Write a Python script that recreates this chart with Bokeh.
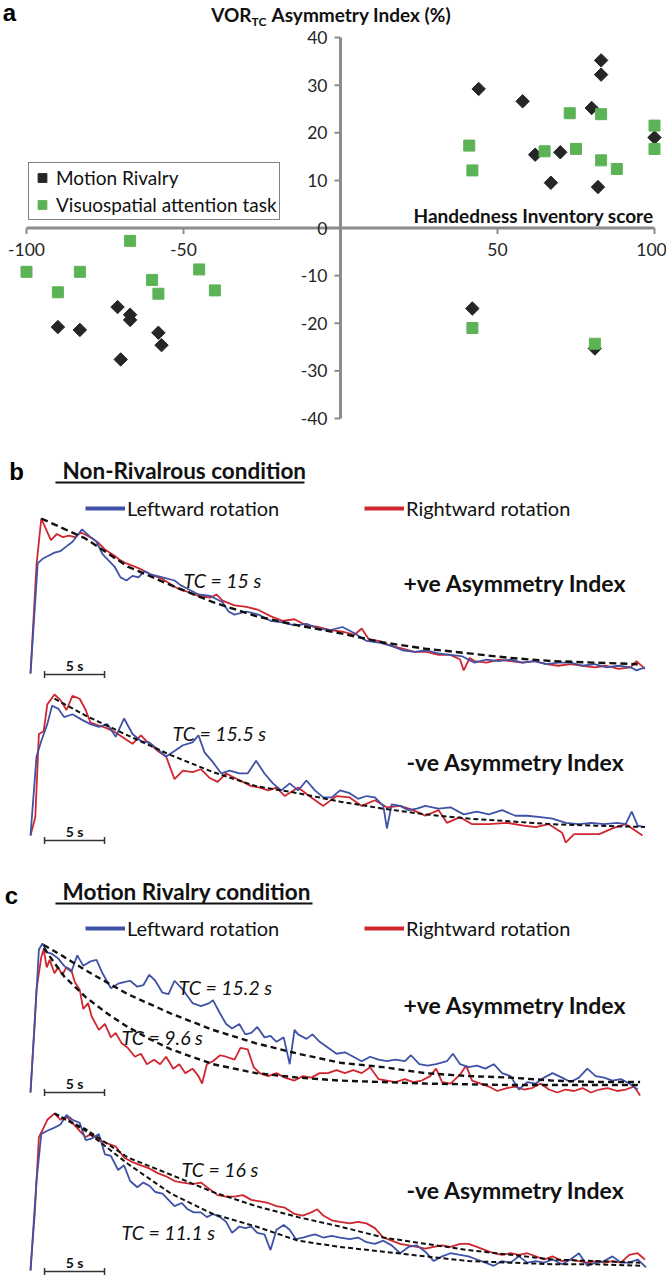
import numpy as np
from bokeh.plotting import figure
from bokeh.layouts import column
from bokeh.models import Range1d, Legend, LegendItem
from bokeh.core.properties import value
from bokeh.embed import file_html
from bokeh.resources import INLINE

# ---------------- panel a data ----------------
handedness_motion = [44, 58, 83, 83, 80, 62, 70, 67, 82, 100, 42, 81,
                     -90, -83, -71, -67, -67, -58, -57, -70]
asymmetry_motion = [29.2, 26.6, 35.2, 32.2, 25.2, 15.4, 15.9, 9.5, 8.6, 19.0, -16.9, -25.3,
                    -20.8, -21.4, -16.6, -18.2, -19.3, -22.0, -24.6, -27.6]
handedness_visuo = [41, 42, 73, 83, 65, 75, 83, 88, 100, 100, 42, 81,
                    -100, -90, -83, -67, -60, -58, -45, -40]
asymmetry_visuo = [17.3, 12.1, 24.1, 23.9, 16.1, 16.6, 14.2, 12.4, 21.5, 16.6, -21.0, -24.3,
                   -9.2, -13.5, -9.2, -2.7, -10.9, -13.8, -8.7, -13.1]
handedness_ticks = [-100, -50, 50, 100]
asymmetry_ticks = [-40, -30, -20, -10, 0, 10, 20, 30, 40]

# ---------------- panel b/c traces: (time s, normalised velocity) ----------------
b_pos_left = [(0, 0), (0.6, 0.71), (1.0, 0.74), (1.5, 0.76), (2.0, 0.78), (2.5, 0.79), (3.0, 0.82), (3.5, 0.85),
              (4.0, 0.90), (4.3, 0.93), (5.0, 0.88), (5.5, 0.85), (6.0, 0.77), (6.5, 0.73), (7.0, 0.69), (7.5, 0.62),
              (8.0, 0.60), (8.5, 0.63), (9.0, 0.62), (9.5, 0.66), (10.0, 0.64), (11.0, 0.62), (12.0, 0.60), (12.5, 0.57),
              (13.0, 0.55), (14.0, 0.51), (15.0, 0.50), (16.0, 0.46), (16.5, 0.40), (17.0, 0.38), (18.0, 0.40), (19.0, 0.38),
              (20.0, 0.34), (21.0, 0.33), (22.0, 0.31), (23.0, 0.32), (24.0, 0.29), (25.0, 0.28), (26.0, 0.30), (27.0, 0.26),
              (28.0, 0.21), (29.0, 0.20), (30.0, 0.18), (31.0, 0.15), (32.0, 0.14), (33.0, 0.15), (34.0, 0.13), (35.0, 0.12),
              (36.0, 0.11), (37.0, 0.07), (38.0, 0.09), (39.0, 0.08), (40.0, 0.09), (41.0, 0.07), (42.0, 0.08), (43.0, 0.06),
              (44.0, 0.07), (45.0, 0.07), (46.0, 0.05), (47.0, 0.06), (48.0, 0.04), (49.0, 0.05), (50.0, 0.04), (50.5, 0.02),
              (51.2, 0.04)]
b_pos_right = [(0, 0), (0.5, 0.70), (0.9, 1.0), (1.3, 0.93), (1.7, 0.86), (2.2, 0.90), (2.7, 0.88), (3.2, 0.89),
               (3.7, 0.88), (4.2, 0.91), (4.7, 0.89), (5.2, 0.87), (5.7, 0.84), (6.2, 0.80), (7.0, 0.76), (7.5, 0.73),
               (8.0, 0.71), (9.0, 0.68), (10.0, 0.64), (11.0, 0.61), (12.0, 0.56), (12.5, 0.54), (13.0, 0.53), (14.0, 0.50),
               (15.0, 0.49), (15.5, 0.51), (16.0, 0.47), (17.0, 0.44), (18.0, 0.43), (19.0, 0.41), (20.0, 0.37), (21.0, 0.34),
               (22.0, 0.35), (23.0, 0.31), (24.0, 0.30), (25.0, 0.28), (26.0, 0.27), (27.0, 0.25), (27.6, 0.29), (28.2, 0.22),
               (29.0, 0.21), (30.0, 0.18), (31.0, 0.16), (32.0, 0.14), (33.0, 0.14), (34.0, 0.12), (35.0, 0.12), (35.8, 0.09),
               (36.1, 0.02), (36.6, 0.10), (37.0, 0.08), (38.0, 0.07), (39.0, 0.09), (40.0, 0.08), (41.0, 0.07), (42.0, 0.08),
               (43.0, 0.06), (44.0, 0.05), (45.0, 0.06), (46.0, 0.05), (47.0, 0.04), (48.0, 0.05), (49.0, 0.03), (50.0, 0.04),
               (50.5, 0.08), (51.2, 0.03)]
b_pos_fit = [(0.9, 1.0), (4.6, 0.87), (8.1, 0.69), (11.7, 0.57), (15.2, 0.46), (18.8, 0.37), (22.3, 0.31), (25.8, 0.26),
             (29.4, 0.20), (32.9, 0.16), (36.5, 0.13), (40.0, 0.10), (43.5, 0.08), (47.1, 0.07), (50.6, 0.06)]

b_neg_left = [(0, 0), (0.5, 0.56), (0.9, 0.67), (1.4, 0.79), (1.8, 0.92), (2.3, 0.90), (2.8, 0.84), (3.5, 0.86),
              (4.3, 0.82), (5.0, 0.79), (5.7, 0.77), (6.4, 0.79), (7.1, 0.70), (7.8, 0.83), (8.5, 0.72), (9.2, 0.67),
              (9.9, 0.66), (10.6, 0.61), (11.3, 0.56), (12.0, 0.60), (12.7, 0.64), (13.5, 0.66), (14.0, 0.71), (14.5, 0.59),
              (15.2, 0.52), (15.9, 0.44), (16.6, 0.46), (17.4, 0.44), (18.1, 0.44), (18.8, 0.53), (19.5, 0.44), (20.2, 0.37),
              (20.9, 0.32), (21.6, 0.37), (22.3, 0.32), (23.0, 0.39), (23.7, 0.32), (24.4, 0.27), (25.1, 0.27), (25.8, 0.32),
              (26.6, 0.30), (27.3, 0.26), (28.0, 0.28), (28.7, 0.27), (29.4, 0.21), (29.7, 0.05), (30.1, 0.22), (30.8, 0.21),
              (31.5, 0.18), (32.2, 0.19), (32.9, 0.21), (34.0, 0.19), (35.0, 0.20), (36.1, 0.15), (37.2, 0.17), (38.2, 0.15),
              (39.3, 0.18), (40.4, 0.14), (41.4, 0.14), (42.5, 0.13), (43.5, 0.12), (44.6, 0.09), (45.7, 0.08), (46.7, 0.09),
              (47.8, 0.08), (48.9, 0.09), (49.6, 0.08), (50.1, 0.17), (50.6, 0.07), (51.2, 0.06)]
b_neg_right = [(0, 0), (0.4, 0.13), (0.7, 0.72), (1.1, 0.74), (1.4, 0.93), (2.0, 1.0), (2.5, 0.96), (3.0, 0.89),
               (3.5, 0.99), (4.1, 0.97), (4.6, 0.89), (5.0, 0.80), (5.7, 0.78), (6.4, 0.76), (7.1, 0.73), (7.8, 0.69),
               (8.5, 0.65), (9.2, 0.71), (9.9, 0.65), (10.6, 0.60), (11.3, 0.56), (12.0, 0.40), (12.7, 0.46), (13.5, 0.45),
               (14.2, 0.47), (14.9, 0.41), (15.6, 0.38), (16.3, 0.44), (17.0, 0.41), (17.7, 0.38), (18.4, 0.35), (19.1, 0.34),
               (19.8, 0.32), (20.5, 0.34), (21.2, 0.28), (22.3, 0.34), (23.4, 0.27), (24.4, 0.21), (25.5, 0.28), (26.6, 0.27),
               (27.6, 0.21), (28.7, 0.25), (29.7, 0.20), (30.8, 0.21), (31.9, 0.18), (32.9, 0.14), (34.0, 0.18), (34.7, 0.09),
               (35.8, 0.13), (36.8, 0.08), (38.2, 0.08), (39.7, 0.09), (41.1, 0.07), (42.1, 0.06), (43.2, 0.08), (44.3, 0.02),
               (44.6, -0.05), (45.3, 0.01), (46.4, 0.01), (47.4, 0.01), (48.5, 0.05), (49.6, 0.08), (50.3, 0.04), (51.0, 0.0)]
b_neg_fit = [(2.0, 0.97), (4.6, 0.85), (8.1, 0.71), (11.7, 0.57), (15.2, 0.45), (18.8, 0.35), (22.3, 0.30), (25.8, 0.24),
             (29.4, 0.19), (32.9, 0.15), (36.5, 0.12), (40.0, 0.10), (43.5, 0.08), (47.1, 0.07), (51.2, 0.06)]

c_pos_left = [(0, 0), (0.35, 0.46), (0.7, 0.96), (1.0, 1.0), (1.4, 0.94), (1.8, 0.93), (2.3, 0.90), (2.8, 0.85),
              (3.4, 0.81), (3.9, 0.92), (4.4, 0.85), (5.0, 0.88), (5.5, 0.89), (6.0, 0.80), (6.7, 0.70), (7.3, 0.73),
              (7.8, 0.74), (8.3, 0.75), (8.9, 0.71), (9.4, 0.72), (9.9, 0.79), (10.4, 0.75), (11.0, 0.67), (11.5, 0.66),
              (12.0, 0.75), (12.7, 0.69), (13.5, 0.60), (14.2, 0.58), (14.9, 0.60), (15.2, 0.62), (15.8, 0.53), (16.3, 0.46),
              (16.8, 0.43), (17.4, 0.46), (17.9, 0.39), (18.4, 0.40), (18.9, 0.44), (19.5, 0.37), (20.0, 0.38), (20.5, 0.34),
              (21.1, 0.37), (21.6, 0.19), (22.0, 0.42), (22.3, 0.39), (23.0, 0.36), (23.5, 0.39), (24.1, 0.34), (24.8, 0.30),
              (25.5, 0.26), (26.2, 0.27), (26.9, 0.24), (27.6, 0.21), (28.3, 0.24), (29.0, 0.22), (29.7, 0.21), (30.4, 0.22),
              (31.2, 0.21), (31.7, 0.25), (32.4, 0.19), (33.1, 0.18), (33.8, 0.19), (34.7, 0.21), (35.2, 0.26), (35.8, 0.19),
              (36.5, 0.17), (37.2, 0.18), (37.9, 0.16), (38.6, 0.19), (39.3, 0.13), (40.0, 0.11), (40.7, 0.02), (41.4, 0.07),
              (42.1, 0.06), (42.8, 0.10), (43.5, 0.13), (44.3, 0.10), (45.0, 0.07), (45.7, 0.10), (46.4, 0.16), (47.1, 0.11),
              (47.8, 0.10), (48.5, 0.08), (49.2, 0.09), (49.9, 0.06), (50.6, 0.02)]
c_pos_right = [(0, 0), (0.5, 0.69), (0.9, 0.91), (1.1, 0.96), (1.35, 0.84), (1.6, 0.89), (2.0, 0.80), (2.3, 0.84),
               (2.65, 0.79), (3.0, 0.84), (3.4, 0.82), (3.7, 0.74), (4.1, 0.69), (4.4, 0.56), (4.8, 0.60), (5.1, 0.51),
               (5.7, 0.42), (6.2, 0.46), (6.7, 0.37), (7.1, 0.40), (7.6, 0.33), (8.1, 0.30), (8.7, 0.24), (9.2, 0.26),
               (9.7, 0.19), (10.3, 0.22), (10.8, 0.19), (11.3, 0.24), (11.9, 0.16), (12.4, 0.19), (12.9, 0.13), (13.5, 0.16),
               (14.0, 0.11), (14.3, 0.06), (14.7, 0.19), (15.2, 0.21), (15.8, 0.25), (16.3, 0.24), (17.0, 0.22), (17.5, 0.30),
               (18.1, 0.29), (18.6, 0.17), (19.1, 0.13), (19.8, 0.11), (20.5, 0.13), (21.2, 0.10), (22.0, 0.08), (22.7, 0.11),
               (23.4, 0.10), (24.1, 0.13), (24.8, 0.13), (25.5, 0.15), (26.2, 0.13), (26.9, 0.15), (27.6, 0.13), (28.3, 0.17),
               (29.0, 0.09), (29.7, 0.08), (30.4, 0.07), (31.2, 0.09), (31.9, 0.07), (32.6, 0.08), (33.3, 0.11), (33.8, 0.16),
               (34.3, 0.07), (35.0, 0.06), (35.8, 0.12), (36.3, 0.18), (36.8, 0.08), (37.5, 0.06), (38.2, 0.04), (38.9, 0.01),
               (39.7, 0.03), (40.4, 0.04), (41.1, 0.02), (41.8, 0.03), (42.5, 0.06), (43.2, 0.02), (43.9, 0.0), (44.6, 0.02),
               (45.3, 0.01), (46.0, 0.03), (46.7, 0.0), (47.4, 0.02), (48.1, 0.03), (48.9, 0.01), (49.6, 0.02), (50.3, 0.04),
               (50.8, -0.02)]
c_pos_fit_left = [(1.1, 0.99), (2.8, 0.91), (4.6, 0.82), (8.1, 0.66), (11.7, 0.53), (15.2, 0.42), (18.8, 0.33),
                  (22.3, 0.26), (25.8, 0.20), (29.4, 0.17), (32.9, 0.13), (36.5, 0.11), (40.0, 0.10), (43.5, 0.08),
                  (47.1, 0.07), (50.8, 0.07)]
c_pos_fit_right = [(1.1, 0.97), (2.8, 0.78), (4.6, 0.64), (6.4, 0.53), (8.1, 0.44), (9.9, 0.36), (11.7, 0.29),
                   (15.2, 0.19), (18.8, 0.13), (22.3, 0.10), (25.8, 0.08), (32.9, 0.06), (40.0, 0.05), (47.1, 0.05),
                   (50.8, 0.05)]

c_neg_left = [(0, 0), (0.5, 0.57), (0.9, 0.87), (1.4, 0.89), (2.0, 0.91), (2.5, 0.93), (3.0, 0.99), (3.5, 0.96),
              (4.1, 0.94), (4.6, 0.83), (5.1, 0.84), (5.7, 0.87), (6.2, 0.74), (6.7, 0.73), (7.3, 0.64), (7.8, 0.67),
              (8.3, 0.57), (8.9, 0.53), (9.4, 0.56), (9.9, 0.54), (10.4, 0.50), (11.0, 0.49), (11.5, 0.45), (12.0, 0.41),
              (12.6, 0.43), (13.1, 0.39), (13.6, 0.37), (14.2, 0.37), (14.7, 0.34), (15.2, 0.36), (15.8, 0.34), (16.3, 0.31),
              (16.8, 0.24), (17.4, 0.28), (17.9, 0.27), (18.4, 0.28), (18.9, 0.24), (19.5, 0.23), (20.0, 0.13), (20.5, 0.26),
              (21.1, 0.29), (21.6, 0.26), (22.1, 0.20), (22.7, 0.21), (23.2, 0.22), (23.7, 0.23), (24.4, 0.21), (25.1, 0.22),
              (25.8, 0.21), (26.6, 0.20), (27.3, 0.21), (28.0, 0.18), (28.7, 0.17), (29.4, 0.19), (30.1, 0.16), (30.8, 0.11),
              (31.5, 0.15), (32.2, 0.16), (32.9, 0.12), (33.6, 0.06), (34.3, 0.09), (35.0, 0.11), (35.8, 0.10), (36.5, 0.09),
              (37.2, 0.07), (37.9, 0.05), (38.6, 0.03), (39.3, 0.06), (40.0, 0.05), (40.7, 0.09), (41.4, 0.05), (42.1, 0.06),
              (42.8, 0.05), (43.5, 0.07), (44.3, 0.04), (45.0, 0.07), (45.7, 0.11), (46.4, 0.03), (47.1, 0.05), (47.8, 0.06),
              (48.5, 0.09), (49.2, 0.05), (49.9, 0.05), (50.6, 0.07), (51.3, 0.02)]
c_neg_right = [(0, 0), (0.35, 0.36), (0.7, 0.85), (1.1, 0.91), (1.4, 0.96), (2.0, 1.0), (2.5, 0.96), (3.0, 0.98),
               (3.5, 0.94), (4.1, 0.89), (4.6, 0.85), (5.1, 0.87), (5.7, 0.83), (6.4, 0.81), (7.1, 0.79), (7.8, 0.72),
               (8.5, 0.69), (9.2, 0.67), (9.9, 0.65), (10.6, 0.62), (11.3, 0.60), (12.0, 0.57), (12.7, 0.56), (13.5, 0.55),
               (14.2, 0.56), (14.9, 0.52), (15.6, 0.48), (16.3, 0.47), (17.0, 0.47), (17.7, 0.48), (18.4, 0.45), (19.1, 0.44),
               (19.8, 0.43), (20.5, 0.41), (21.2, 0.40), (22.0, 0.36), (22.7, 0.35), (23.4, 0.37), (23.9, 0.39), (24.4, 0.35),
               (25.1, 0.32), (25.8, 0.31), (26.6, 0.30), (27.3, 0.31), (28.0, 0.30), (28.7, 0.27), (29.4, 0.21), (30.1, 0.19),
               (30.8, 0.17), (31.5, 0.16), (32.2, 0.15), (32.9, 0.14), (33.6, 0.15), (34.3, 0.16), (35.0, 0.15), (35.8, 0.17),
               (36.5, 0.17), (37.2, 0.15), (37.9, 0.13), (38.6, 0.11), (39.3, 0.10), (40.0, 0.11), (40.7, 0.10), (41.4, 0.11),
               (42.1, 0.09), (42.8, 0.07), (43.5, 0.09), (44.3, 0.06), (45.0, 0.07), (45.7, 0.06), (46.4, 0.05), (47.1, 0.06),
               (47.8, 0.05), (48.5, 0.06), (49.2, 0.05), (49.9, 0.10), (50.6, 0.11), (51.2, 0.07)]
c_neg_fit_right = [(2.0, 1.0), (4.6, 0.90), (8.1, 0.72), (11.7, 0.61), (15.2, 0.50), (18.8, 0.41), (22.3, 0.34),
                   (25.8, 0.28), (29.4, 0.21), (32.9, 0.17), (36.5, 0.13), (40.0, 0.10), (43.5, 0.07), (47.1, 0.06),
                   (50.8, 0.05)]
c_neg_fit_left = [(2.0, 1.0), (4.6, 0.89), (8.1, 0.68), (11.7, 0.49), (15.2, 0.36), (18.8, 0.28), (22.3, 0.19),
                  (25.8, 0.15), (29.4, 0.12), (32.9, 0.09), (36.5, 0.06), (40.0, 0.05), (43.5, 0.04), (47.1, 0.04),
                  (50.8, 0.03)]

scale_bar_start = 1.17   # s
scale_bar_seconds = 5    # s

# ---------------- styling ----------------
FONT = "Lato"
BLUE = "#4052a6"
RED = "#cf2630"
GREEN = "#5cb356"
DARK = "#262626"
AXC = "#8c8c8c"
W = 666


def base_fig(h, xr, yr):
    return figure(width=W, height=h, x_range=xr, y_range=yr, x_axis_type=None, y_axis_type=None,
                  toolbar_location=None, output_backend="svg", min_border=0,
                  outline_line_color=None)


def txt(p, x, y, s, size, style="normal", align="left", font=FONT, color="#111111", xo=0, yo=0):
    p.text(x=[x], y=[y], text=[s], text_font=value(font), text_font_size=size,
           text_font_style=style, text_align=align, text_baseline="middle",
           text_color=color, x_offset=xo, y_offset=yo)


# ---------------- panel a ----------------
pa = base_fig(448, Range1d(-108.28, 103.82), Range1d(-46.30, 47.77))
pa.segment(x0=[handedness_ticks[0]], y0=[0], x1=[handedness_ticks[-1]], y1=[0], line_color=AXC, line_width=3)
pa.segment(x0=[0], y0=[asymmetry_ticks[0]], x1=[0], y1=[asymmetry_ticks[-1]], line_color=AXC, line_width=3)
pa.ray(x=[0] * len(asymmetry_ticks), y=asymmetry_ticks, length=6, angle=np.pi, length_units="screen",
       line_color=AXC, line_width=2)
pa.ray(x=handedness_ticks, y=[0] * len(handedness_ticks), length=6, angle=-np.pi / 2, length_units="screen",
       line_color=AXC, line_width=2)
pa.text(x=[0] * len(asymmetry_ticks), y=asymmetry_ticks, text=[str(v) for v in asymmetry_ticks],
        text_font=value(FONT), text_font_size="17.5px", text_align="right", text_baseline="middle",
        text_color=DARK, x_offset=-13)
pa.text(x=handedness_ticks, y=[0] * len(handedness_ticks), text=[str(v) for v in handedness_ticks],
        text_font=value(FONT), text_font_size="17.5px", text_align="center", text_baseline="middle",
        text_color=DARK, y_offset=21, x_offset=[0, 0, 0, -3])
txt(pa, 100, 0, "Handedness Inventory score", "19px", "bold", "right", yo=-13, xo=-1)
txt(pa, 0, 44.93, "VOR", "19px", "bold", "right", xo=-89)
txt(pa, 0, 44.93, "TC", "12px", "bold", "left", xo=-89, yo=7)
txt(pa, 0, 44.93, "Asymmetry Index (%)", "19px", "bold", "left", xo=-69)
txt(pa, -105.4, 45.25, "a", "24px", "bold", "center", font="Liberation Sans", color="#000000")

r_mr = pa.scatter(handedness_motion, asymmetry_motion, marker="square", angle=np.pi / 4, size=9.5,
                  fill_color=DARK, line_color=DARK)
r_vs = pa.scatter(handedness_visuo, asymmetry_visuo, marker="square", size=11,
                  fill_color=GREEN, line_color=GREEN)
leg_a = Legend(items=[LegendItem(label="Motion Rivalry", renderers=[r_mr]),
                      LegendItem(label="Visuospatial attention task", renderers=[r_vs])],
               location=(28, 228), margin=0, padding=2, spacing=2, glyph_width=22, glyph_height=25,
               label_height=25, label_standoff=3, label_width=211,
               label_text_font=FONT, label_text_font_size="19px", label_text_color="#111111",
               border_line_color="black", border_line_width=1, background_fill_color="white",
               background_fill_alpha=1)
pa.add_layout(leg_a, "center")

# ---------------- trace panels ----------------
T0, T1 = -30 / 12, 636 / 12


def xy(pairs):
    return [a for a, b in pairs], [b for a, b in pairs]


def trace_panel(h, base_y, ppu, left, right, fits, dash, fw, bar_dy):
    p = base_fig(h, Range1d(T0, T1), Range1d(-(h - base_y) / ppu, base_y / ppu))
    xs, ys = xy(right)
    p.line(xs, ys, line_color=RED, line_width=1.8)
    xs, ys = xy(left)
    p.line(xs, ys, line_color=BLUE, line_width=1.8)
    for f in fits:
        xs, ys = xy(f)
        p.line(xs, ys, line_color="#111111", line_width=fw, line_dash=dash)
    bv = -bar_dy / ppu
    x0, x1 = scale_bar_start, scale_bar_start + scale_bar_seconds
    p.segment(x0=[x0], y0=[bv], x1=[x1], y1=[bv], line_color="#333333", line_width=1.5)
    p.scatter([x0, x1], [bv, bv], marker="dash", angle=np.pi / 2, size=7, line_color="#333333", line_width=1.5)
    txt(p, (x0 + x1) / 2, bv, f"{scale_bar_seconds} s", "14px", "bold", "center", yo=-9)
    return p


def add_legend(p, vy):
    nan2 = np.array([np.nan, np.nan])
    lb = p.line(nan2, nan2, line_color=BLUE, line_width=4)
    lr = p.line(nan2, nan2, line_color=RED, line_width=4)
    lg = Legend(items=[LegendItem(label="Leftward rotation", renderers=[lb]),
                       LegendItem(label="Rightward rotation", renderers=[lr])],
                location=(85, vy), orientation="horizontal", margin=0, padding=0, spacing=0,
                glyph_width=40, glyph_height=20, label_height=20, label_standoff=2, label_width=237,
                label_text_font=FONT, label_text_font_size="20px", label_text_color="#111111",
                border_line_color=None, background_fill_alpha=0)
    p.add_layout(lg, "center")


# b, +ve
b1 = trace_panel(240, 225, 155, b_pos_left, b_pos_right, [b_pos_fit], "7 4", 2.4, 1)
txt(b1, -1.17, 1.303, "b", "24px", "bold", "center", font="Liberation Sans", color="#000000")
txt(b1, 2.67, 1.31, "Non-Rivalrous condition", "22.5px", "bold")
b1.segment(x0=[2.08], y0=[1.232], x1=[22.83], y1=[1.232], line_color="#111111", line_width=2)
txt(b1, 12.75, 0.600, "TC = 15 s", "19.5px", "italic")
txt(b1, 31.08, 0.581, "+ve Asymmetry Index", "23px", "bold")
add_legend(b1, 168)

# b, -ve
b2 = trace_panel(164, 147, 141, b_neg_left, b_neg_right, [b_neg_fit], "5 3", 2, 5)
txt(b2, 11.83, 0.723, "TC = 15.5 s", "19.5px", "italic")
txt(b2, 31.33, 0.518, "-ve Asymmetry Index", "23px", "bold")

# c, +ve
c1 = trace_panel(248, 240, 149, c_pos_left, c_pos_right, [c_pos_fit_left, c_pos_fit_right], "6 4", 2.4, 0)
txt(c1, -1.58, 1.322, "c", "24px", "bold", "center", font="Liberation Sans", color="#000000")
txt(c1, 2.67, 1.349, "Motion Rivalry condition", "22.5px", "bold")
c1.segment(x0=[2.08], y0=[1.268], x1=[23.5], y1=[1.268], line_color="#111111", line_width=2)
txt(c1, 12.33, 0.705, "TC = 15.2 s", "19.5px", "italic")
txt(c1, 31.08, 0.584, "+ve Asymmetry Index", "23px", "bold")
txt(c1, 7.58, 0.369, "TC = 9.6 s", "19.5px", "italic")
add_legend(c1, 160)

# c, -ve
c2 = trace_panel(180, 170, 157, c_neg_left, c_neg_right, [c_neg_fit_right, c_neg_fit_left], "5 3", 2, 1)
txt(c2, 12.58, 0.643, "TC = 16 s", "19.5px", "italic")
txt(c2, 31.33, 0.510, "-ve Asymmetry Index", "23px", "bold")
txt(c2, 7.58, 0.242, "TC = 11.1 s", "19.5px", "italic")

layout = column(pa, b1, b2, c1, c2, spacing=0)
open("out.html", "w").write(file_html(layout, INLINE))
